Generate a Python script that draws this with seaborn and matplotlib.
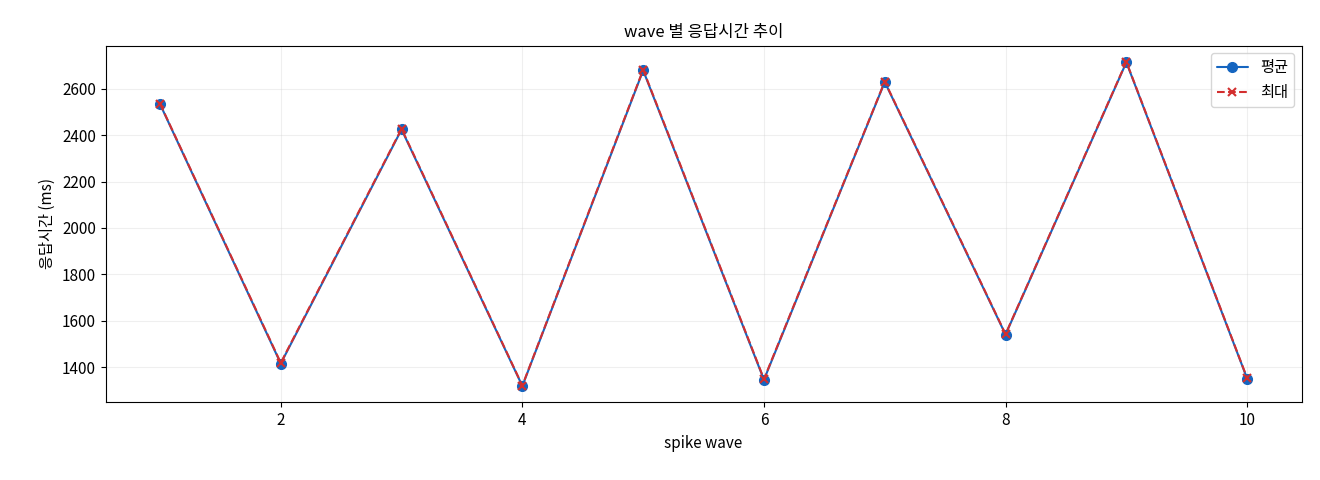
import matplotlib
matplotlib.use('Agg')
import matplotlib.pyplot as plt
import seaborn as sns
import pandas as pd

waves = [1, 2, 3, 4, 5, 6, 7, 8, 9, 10]
avg_ms = [2535, 1415, 2425, 1318, 2680, 1345, 2630, 1540, 2715, 1350]
max_ms = [2537, 1418, 2428, 1320, 2683, 1348, 2632, 1542, 2717, 1352]

sns.set_style('ticks')
plt.rcParams['font.family'] = ['Noto Sans CJK KR', 'DejaVu Sans']
plt.rcParams['text.color'] = 'black'
plt.rcParams['axes.labelcolor'] = 'black'
plt.rcParams['xtick.color'] = 'black'
plt.rcParams['ytick.color'] = 'black'
plt.rcParams['font.size'] = 11

df = pd.DataFrame({'wave': waves, 'avg': avg_ms, 'max': max_ms})

fig, ax = plt.subplots(figsize=(13.2, 4.8), dpi=100)
sns.lineplot(data=df, x='wave', y='avg', ax=ax, color='#1565c0', marker='o',
             markersize=7, markeredgecolor='#1565c0', markeredgewidth=1,
             linewidth=1.5, label='평균')
sns.lineplot(data=df, x='wave', y='max', ax=ax, color='#d32f2f', marker='x',
             markersize=6, markeredgecolor='#d32f2f', markeredgewidth=1.5,
             linewidth=1.5, dashes=False, label='최대')
ax.lines[1].set_linestyle('--')
ax.set_title('wave 별 응답시간 추이', fontsize=12)
ax.set_xlabel('spike wave', fontsize=11)
ax.set_ylabel('응답시간 (ms)', fontsize=11)
ax.tick_params(labelsize=11)
ax.grid(True, alpha=0.3)
leg = ax.legend(loc='upper right')
for h in leg.get_lines()[1:]:
    h.set_linestyle('--')
for s in ax.spines.values():
    s.set_visible(True)
    s.set_color('black')
fig.subplots_adjust(left=0.08, right=0.986, top=0.905, bottom=0.162)
fig.savefig('out.png')
